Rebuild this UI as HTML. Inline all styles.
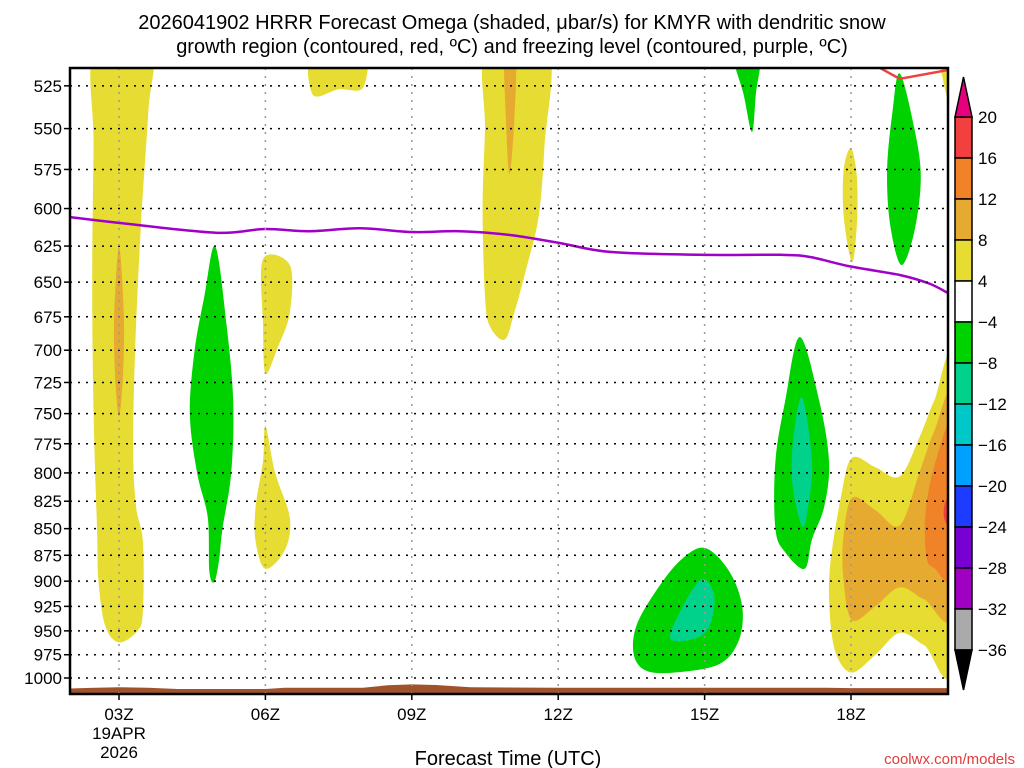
<!DOCTYPE html>
<html><head><meta charset="utf-8"><style>
html,body{margin:0;padding:0;background:#fff;width:1024px;height:768px;overflow:hidden}
svg text{font-family:"Liberation Sans",sans-serif}
</style></head><body>
<svg id="chart" width="1024" height="768" xmlns="http://www.w3.org/2000/svg">
<text x="512" y="29" text-anchor="middle" font-size="20">2026041902 HRRR Forecast Omega (shaded, μbar/s) for KMYR with dendritic snow</text>
<text x="512" y="53" text-anchor="middle" font-size="20">growth region (contoured, red, ºC) and freezing level (contoured, purple, ºC)</text>
<text x="508" y="765" text-anchor="middle" font-size="20">Forecast Time (UTC)</text>
<text x="1015" y="764" text-anchor="end" font-size="15" fill="#e03c3c">coolwx.com/models</text>
<g id="plot"></g>
<g id="cbar"></g>
</svg>
<script>
// ---- data ----
const xTickHours=[3,6,9,12,15,18];
const xTickLabels=["03Z","06Z","09Z","12Z","15Z","18Z"];
const yTickLevels=[525,550,575,600,625,650,675,700,725,750,775,800,825,850,875,900,925,950,975,1000];
const freezeHours=[2.0,3.02,4.97,5.99,6.91,7.94,9.0,9.99,11.01,12.04,13.06,14.9,16.55,17.16,17.98,19.0,19.6,20.0];
const freezeLevels=[605.6,609.5,616,613.5,615,613,615.5,615,617.5,623,629,631,631,632.5,639,645,651,658];
const dgzHours=[18.6,19.0,20.0];
const dgzLevels=[515,521,516];
const terrainHours=[2,2.4,3,3.6,4.2,6,6.4,8,8.5,9,9.5,10.2,12,14,16,17.5,18,20];
const terrainLevels=[1011.5,1010.8,1010.2,1010.6,1012,1012,1010.6,1010.6,1008,1007,1007.6,1010.2,1010.6,1010.6,1010.6,1010.6,1011,1011];
const cbarLevels=[20,16,12,8,4,-4,-8,-12,-16,-20,-24,-28,-32,-36];
const cbarColors=["#f24040","#f08228","#e6aa30","#e6dc32","#ffffff","#00d200","#00d28c","#00c8c8","#00a0ff","#1e3cff","#7800d2","#a000c0","#aaaaaa"];
// shaded omega regions: [hour, hPa] pairs
const yellowA=[[2.5,505],[3.64,505],[3.6,540],[3.45,610],[3.33,700],[3.29,780],[3.35,830],[3.49,862],[3.49,930],[3.38,950],[3.0,962],[2.72,945],[2.58,900],[2.55,850],[2.48,750],[2.45,650],[2.48,560]];
const orangeA=[[3.0,625],[3.1,675],[3.08,720],[3.0,752],[2.92,720],[2.9,675]];
const greenB=[[4.97,625],[5.2,680],[5.34,740],[5.3,800],[5.12,850],[5.05,880],[4.95,901],[4.85,890],[4.82,840],[4.6,800],[4.45,750],[4.55,700],[4.75,660]];
const yellowC1=[[5.95,634],[6.5,638],[6.5,672],[6.25,698],[6.0,718],[5.95,680]];
const yellowC2=[[6.0,760],[6.2,800],[6.5,840],[6.4,870],[6.0,888],[5.8,862],[5.8,830],[5.95,790]];
const yellowD=[[6.97,505],[8.0,505],[8.0,526],[7.5,527],[6.97,530]];
const yellowE=[[10.54,505],[11.79,505],[11.72,560],[11.6,605],[11.35,640],[11.1,672],[10.9,692],[10.6,682],[10.5,660],[10.45,600],[10.5,550]];
const orangeE=[[10.9,505],[11.13,505],[11.1,545],[11.0,578],[10.93,545]];
const greenF=[[15.58,505],[16.13,505],[16.05,530],[15.97,552],[15.8,530]];
const greenG=[[16.95,690],[17.35,740],[17.55,790],[17.45,830],[17.2,860],[17.05,888],[16.65,872],[16.45,850],[16.45,790],[16.65,740]];
const tealG=[[17.0,737],[17.2,790],[17.12,830],[17.0,848],[16.8,810],[16.82,770]];
const greenH=[[15.0,868],[15.5,890],[15.77,925],[15.7,960],[15.3,985],[14.4,994],[13.8,992],[13.55,975],[13.6,945],[14.0,910],[14.5,880]];
const tealH=[[15.0,898],[15.2,915],[15.1,945],[14.8,958],[14.3,958],[14.5,930],[14.8,905]];
const yellowI=[[18.02,787],[18.5,795],[19.0,803],[19.4,770],[19.7,740],[20.1,712],[20.1,982],[19.5,965],[19.0,952],[18.5,975],[18.02,994],[17.7,975],[17.57,936],[17.57,886],[17.8,820]];
const goldI=[[18.02,822],[18.5,833],[19.0,847],[19.4,800],[19.7,765],[20.1,738],[20.1,928],[19.5,918],[19.0,906],[18.5,925],[18.02,939],[17.85,900],[17.84,860]];
const orangeI=[[20.1,758],[19.7,795],[19.52,839],[19.55,877],[19.7,887],[20.1,892]];
const redI=[[20.1,815],[19.92,828],[19.92,842],[20.1,850]];
const yellowJ=[[19.8,505],[20.1,505],[20.1,545],[19.95,530]];
const yellowK=[[18.0,562],[18.12,580],[18.12,610],[18.02,636],[17.85,605],[17.85,575]];
const greenL=[[19.0,518],[19.3,550],[19.43,580],[19.3,615],[19.03,638],[18.8,610],[18.74,575],[18.85,540]];

// ---- axes ----
const X0=70,X1=948,Y0=68,Y1=694;
function xs(h){return 119+(h-3)*48.8;}
function ys(p){return 678-919*Math.log(1000/p);}
const NS="http://www.w3.org/2000/svg";
const plot=document.getElementById('plot');
function mk(tag,attrs,parent){const e=document.createElementNS(NS,tag);for(const k in attrs)e.setAttribute(k,attrs[k]);(parent||plot).appendChild(e);return e;}
const defs=mk('defs',{});
const cp=mk('clipPath',{id:'clip'},defs);
mk('rect',{x:X0,y:Y0,width:X1-X0,height:Y1-Y0},cp);
const shapes=mk('g',{'clip-path':'url(#clip)'});
function smooth(pts,open){
  const P=pts.map(q=>[xs(q[0]),ys(q[1])]);const n=P.length;let d='M'+P[0][0].toFixed(1)+','+P[0][1].toFixed(1);
  const lim=open?n-1:n;
  for(let i=0;i<lim;i++){
    const p0=open?P[Math.max(i-1,0)]:P[(i-1+n)%n],p1=P[i],p2=P[(i+1)%n],p3=open?P[Math.min(i+2,n-1)]:P[(i+2)%n];
    const c1=[p1[0]+(p2[0]-p0[0])/6,p1[1]+(p2[1]-p0[1])/6],c2=[p2[0]-(p3[0]-p1[0])/6,p2[1]-(p3[1]-p1[1])/6];
    d+='C'+c1.map(v=>v.toFixed(1))+' '+c2.map(v=>v.toFixed(1))+' '+p2[0].toFixed(1)+','+p2[1].toFixed(1);}
  return open?d:d+'Z';}
const regions=[[yellowA,'#e6dc32','yellow-region-03z'],[orangeA,'#e6aa30','gold-region-03z'],[greenB,'#00d200','green-region-05z'],[yellowC1,'#e6dc32','yellow-region-06z-upper'],[yellowC2,'#e6dc32','yellow-region-06z-lower'],[yellowD,'#e6dc32','yellow-region-07z'],[yellowE,'#e6dc32','yellow-region-11z'],[orangeE,'#e6aa30','gold-region-11z'],[greenF,'#00d200','green-region-16z-top'],[greenG,'#00d200','green-region-17z'],[tealG,'#00d28c','teal-region-17z'],[greenH,'#00d200','green-region-15z'],[tealH,'#00d28c','teal-region-15z'],[yellowI,'#e6dc32','yellow-region-19z'],[goldI,'#e6aa30','gold-region-19z'],[orangeI,'#f08228','orange-region-20z'],[redI,'#f24040','red-region-20z'],[yellowJ,'#e6dc32','yellow-region-20z-top'],[yellowK,'#e6dc32','yellow-region-18z-top'],[greenL,'#00d200','green-region-19z-top']];
regions.forEach(r=>{const e=mk('path',{d:smooth(r[0],false),fill:r[1]},shapes);

});
// grid
yTickLevels.forEach(p=>{const y=ys(p);
 const g=mk('line',{x1:X0,x2:X1,y1:y,y2:y,stroke:'#000','stroke-width':1.5,'stroke-dasharray':'2 6'});
 
 
 mk('line',{x1:X0-6,x2:X0,y1:y,y2:y,stroke:'#000','stroke-width':1.5});
 const t=mk('text',{x:62,y:y+6,'text-anchor':'end','font-size':17});t.textContent=p;
 
 });
xTickHours.forEach((h,i)=>{const x=xs(h);
 const g=mk('line',{x1:x,x2:x,y1:Y0,y2:Y1,stroke:'#999','stroke-width':1.5,'stroke-dasharray':'2 6'});
 
 
 mk('line',{x1:x,x2:x,y1:Y1,y2:Y1+6,stroke:'#000','stroke-width':1.5});
 const t=mk('text',{x:x,y:720,'text-anchor':'middle','font-size':17});t.textContent=xTickLabels[i];
 
 });
const d1=mk('text',{x:xs(3),y:739,'text-anchor':'middle','font-size':17});d1.textContent='19APR';


const d2=mk('text',{x:xs(3),y:758,'text-anchor':'middle','font-size':17});d2.textContent='2026';


// terrain
let td='M'+xs(terrainHours[0])+','+Y1;
terrainHours.forEach((h,i)=>{td+='L'+xs(h).toFixed(1)+','+ys(terrainLevels[i]).toFixed(1);});
td+='L'+xs(terrainHours[terrainHours.length-1])+','+Y1+'Z';
const ter=mk('path',{d:td,fill:'#a0522d'},shapes);


// freezing level
const fz=mk('path',{d:smooth(freezeHours.map((h,i)=>[h,freezeLevels[i]]),true),fill:'none',stroke:'#a000c8','stroke-width':2.5},shapes);


const dg=mk('path',{d:'M'+dgzHours.map((h,i)=>xs(h).toFixed(1)+','+ys(dgzLevels[i]).toFixed(1)).join('L'),fill:'none',stroke:'#f04040','stroke-width':2.5},shapes);


const fr=mk('rect',{x:X0,y:Y0,width:X1-X0,height:Y1-Y0,fill:'none',stroke:'#000','stroke-width':2.5});


// colorbar
const cb=document.getElementById('cbar');
const CX=955,CW=17,CT=117,CH=41;
cbarColors.forEach((c,i)=>{const r=mk('rect',{x:CX,y:CT+i*CH,width:CW,height:CH,fill:c,stroke:'#000','stroke-width':1.5},cb);
 
 });
const tu=mk('polygon',{points:`${CX},${CT} ${CX+CW},${CT} ${CX+CW/2},${CT-40}`,fill:'#e6007e',stroke:'#000','stroke-width':1.5},cb);


const bot=CT+cbarColors.length*CH;
const td2=mk('polygon',{points:`${CX},${bot} ${CX+CW},${bot} ${CX+CW/2},${bot+40}`,fill:'#000',stroke:'#000','stroke-width':1.5},cb);


cbarLevels.forEach((v,i)=>{const t=mk('text',{x:978,y:CT+i*CH+6,'font-size':17},cb);t.textContent=v<0?'\u2212'+(-v):String(v);
 
 });
</script>
</body></html>
